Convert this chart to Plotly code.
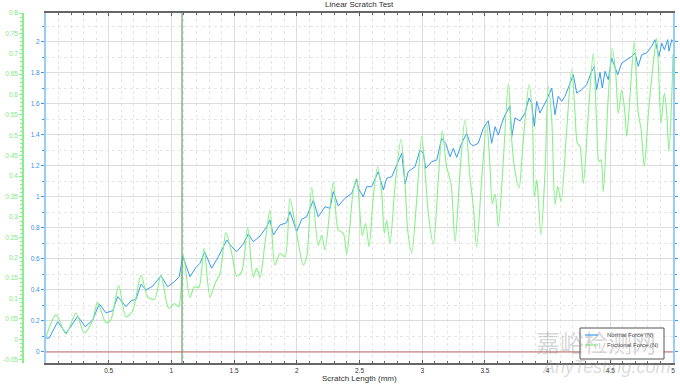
import plotly.graph_objects as go

# ---------------- data ----------------
normal_x = [0.000, 0.026, 0.093, 0.159, 0.253, 0.313, 0.372, 0.425, 0.478, 0.532,
            0.572, 0.638, 0.678, 0.718, 0.758, 0.797, 0.851, 0.917, 0.970, 1.023,
            1.063, 1.090, 1.148, 1.196, 1.228, 1.265, 1.321, 1.374, 1.441, 1.481,
            1.521, 1.573, 1.613, 1.653, 1.707, 1.760, 1.786, 1.813, 1.866, 1.919,
            1.946, 1.999, 2.039, 2.079, 2.132, 2.171, 2.225, 2.265, 2.291, 2.331,
            2.384, 2.438, 2.478, 2.490, 2.530, 2.557, 2.597, 2.650, 2.690, 2.717,
            2.757, 2.797, 2.837, 2.863, 2.889, 2.943, 2.982, 3.009, 3.028, 3.076,
            3.116, 3.155, 3.187, 3.222, 3.248, 3.275, 3.315, 3.355, 3.381, 3.408,
            3.447, 3.487, 3.527, 3.554, 3.581, 3.607, 3.634, 3.660, 3.700, 3.714,
            3.740, 3.780, 3.820, 3.852, 3.873, 3.894, 3.913, 3.939, 3.966, 3.993,
            4.033, 4.059, 4.085, 4.112, 4.139, 4.179, 4.205, 4.232, 4.272, 4.312,
            4.346, 4.372, 4.391, 4.418, 4.436, 4.458, 4.484, 4.511, 4.537, 4.559,
            4.591, 4.631, 4.671, 4.697, 4.723, 4.750, 4.790, 4.830, 4.856, 4.888,
            4.910, 4.931, 4.958, 4.968, 4.990, 5.000]
normal_y = [0.090, 0.090, 0.195, 0.120, 0.230, 0.163, 0.206, 0.310, 0.253, 0.266,
            0.357, 0.292, 0.330, 0.340, 0.438, 0.400, 0.425, 0.492, 0.421, 0.453,
            0.486, 0.619, 0.486, 0.546, 0.572, 0.645, 0.540, 0.614, 0.722, 0.679,
            0.647, 0.696, 0.761, 0.711, 0.748, 0.808, 0.851, 0.754, 0.819, 0.834,
            0.905, 0.776, 0.856, 0.872, 0.980, 0.872, 0.937, 0.926, 1.034, 0.941,
            0.991, 1.023, 1.113, 1.055, 1.001, 1.066, 1.066, 1.163, 1.045, 1.120,
            1.130, 1.206, 1.281, 1.083, 1.163, 1.195, 1.302, 1.281, 1.184, 1.227,
            1.238, 1.378, 1.346, 1.259, 1.313, 1.255, 1.346, 1.410, 1.346, 1.330,
            1.346, 1.442, 1.491, 1.346, 1.453, 1.399, 1.474, 1.528, 1.586, 1.388,
            1.510, 1.490, 1.541, 1.638, 1.605, 1.455, 1.616, 1.541, 1.584, 1.627,
            1.702, 1.530, 1.649, 1.616, 1.649, 1.734, 1.788, 1.670, 1.691, 1.724,
            1.799, 1.842, 1.691, 1.803, 1.702, 1.810, 1.756, 1.896, 1.842, 1.788,
            1.863, 1.885, 1.906, 1.928, 1.842, 1.917, 1.928, 1.971, 2.014, 1.906,
            1.992, 1.949, 2.014, 1.940, 2.014, 2.003]

friction_x = [0.000, 0.080, 0.159, 0.239, 0.305, 0.372, 0.412, 0.478, 0.518, 0.580,
              0.638, 0.691, 0.758, 0.811, 0.864, 0.917, 0.978, 1.023, 1.058, 1.095,
              1.148, 1.183, 1.218, 1.260, 1.308, 1.348, 1.388, 1.435, 1.481, 1.521,
              1.561, 1.608, 1.653, 1.680, 1.707, 1.746, 1.786, 1.826, 1.866, 1.906,
              1.946, 1.999, 2.052, 2.079, 2.119, 2.171, 2.199, 2.225, 2.291, 2.331,
              2.371, 2.398, 2.451, 2.478, 2.496, 2.522, 2.549, 2.576, 2.610, 2.645,
              2.677, 2.698, 2.717, 2.743, 2.783, 2.831, 2.863, 2.884, 2.916, 2.956,
              2.996, 3.028, 3.049, 3.089, 3.128, 3.160, 3.195, 3.230, 3.262, 3.301,
              3.341, 3.381, 3.408, 3.434, 3.474, 3.514, 3.541, 3.559, 3.581, 3.607,
              3.647, 3.687, 3.714, 3.735, 3.772, 3.806, 3.852, 3.878, 3.894, 3.913,
              3.921, 3.947, 3.979, 4.006, 4.033, 4.059, 4.081, 4.107, 4.152, 4.192,
              4.219, 4.237, 4.258, 4.285, 4.325, 4.364, 4.391, 4.410, 4.426, 4.444,
              4.484, 4.516, 4.543, 4.564, 4.591, 4.617, 4.631, 4.657, 4.691, 4.723,
              4.745, 4.771, 4.804, 4.843, 4.870, 4.888, 4.904, 4.931, 4.950, 4.968,
              4.990, 5.000]
friction_y = [0.006, 0.060, 0.013, 0.064, 0.016, 0.047, 0.090, 0.041, 0.049, 0.131,
              0.055, 0.070, 0.157, 0.104, 0.098, 0.157, 0.076, 0.088, 0.080, 0.206,
              0.103, 0.129, 0.127, 0.223, 0.104, 0.137, 0.162, 0.261, 0.211, 0.155,
              0.166, 0.274, 0.153, 0.174, 0.152, 0.235, 0.317, 0.182, 0.211, 0.202,
              0.345, 0.260, 0.182, 0.202, 0.372, 0.231, 0.255, 0.219, 0.386, 0.268,
              0.260, 0.209, 0.366, 0.394, 0.341, 0.255, 0.284, 0.227, 0.349, 0.423,
              0.358, 0.260, 0.292, 0.235, 0.374, 0.491, 0.382, 0.268, 0.212, 0.341,
              0.498, 0.390, 0.309, 0.233, 0.390, 0.511, 0.423, 0.382, 0.239, 0.407,
              0.539, 0.398, 0.325, 0.227, 0.390, 0.529, 0.423, 0.333, 0.356, 0.276,
              0.439, 0.627, 0.488, 0.423, 0.371, 0.489, 0.624, 0.554, 0.350, 0.391,
              0.370, 0.256, 0.407, 0.620, 0.538, 0.330, 0.375, 0.338, 0.513, 0.662,
              0.554, 0.481, 0.473, 0.383, 0.554, 0.701, 0.530, 0.436, 0.440, 0.362,
              0.595, 0.713, 0.652, 0.554, 0.611, 0.554, 0.497, 0.595, 0.730, 0.554,
              0.517, 0.424, 0.554, 0.677, 0.738, 0.636, 0.530, 0.603, 0.554, 0.460,
              0.595, 0.700]

baseline_x = [0.0, 5.0]
baseline_y = [0.0, 0.0]
critical_x = 1.085

x_ticks = [0.5, 1, 1.5, 2, 2.5, 3, 3.5, 4, 4.5, 5]
x_tick_text = ["0.5", "1", "1.5", "2", "2.5", "3", "3.5", "4", "4.5", "5"]
normal_ticks = [0, 0.2, 0.4, 0.6, 0.8, 1, 1.2, 1.4, 1.6, 1.8, 2]
normal_tick_text = ["0", "0.2", "0.4", "0.6", "0.8", "1", "1.2", "1.4", "1.6", "1.8", "2"]
friction_ticks = [-0.05, 0, 0.05, 0.1, 0.15, 0.2, 0.25, 0.3, 0.35, 0.4, 0.45,
                  0.5, 0.55, 0.6, 0.65, 0.7, 0.75, 0.8]
friction_tick_text = ["-0.05", "0", "0.05", "0.1", "0.15", "0.2", "0.25", "0.3", "0.35",
                      "0.4", "0.45", "0.5", "0.55", "0.6", "0.65", "0.7", "0.75", "0.8"]

# ---------------- layout geometry ----------------
W, H = 680, 387
ML, MR, MT, MB = 10, 7, 13, 24
PW, PH = W - ML - MR, H - MT - MB


def px(xp):
    return (xp - ML) / PW


def py(yp):
    return (H - MB - yp) / PH


BLUE = "rgb(55,155,245)"
GREEN = "rgb(135,240,135)"
FONT = "Liberation Sans, Arial, sans-serif"

fig = go.Figure()

fig.add_trace(go.Scatter(x=baseline_x, y=baseline_y, mode="lines",
                         line=dict(color="rgb(195,110,110)", width=1),
                         yaxis="y", showlegend=False, hoverinfo="skip"))
fig.add_trace(go.Scatter(x=friction_x, y=friction_y, mode="lines", name="Frictional Force (N)",
                         line=dict(color=GREEN, width=1.1, shape="spline", smoothing=0.8),
                         yaxis="y2", showlegend=False))
fig.add_trace(go.Scatter(x=normal_x, y=normal_y, mode="lines", name="Normal Force (N)",
                         line=dict(color=BLUE, width=1),
                         yaxis="y", showlegend=False))

fig.add_vline(x=critical_x, line=dict(color="rgba(100,160,100,0.85)", width=1.4))

fig.update_layout(
    width=W, height=H,
    margin=dict(l=ML, r=MR, t=MT, b=MB, autoexpand=False),
    paper_bgcolor="white", plot_bgcolor="white",
    font=dict(family=FONT, size=7, color="#333"),
    xaxis=dict(
        domain=[px(46), 1], range=[0, 5], automargin=False,
        tickvals=x_ticks, ticktext=x_tick_text,
        ticks="inside", ticklen=3, tickcolor="#555",
        showline=True, linecolor="#666", linewidth=1.5, mirror="ticks",
        showgrid=True, gridcolor="#dcdcdc", gridwidth=1,
        zeroline=False,
        tickfont=dict(size=6.5, color="#333"),
        minor=dict(dtick=0.1, ticks="inside", ticklen=2, tickcolor="#666",
                   showgrid=True, gridcolor="#e6e6e6", griddash="dot"),
    ),
    yaxis=dict(
        range=[-0.071, 2.186], automargin=False,
        tickvals=normal_ticks, ticktext=normal_tick_text,
        ticks="outside", ticklen=3, tickcolor=BLUE,
        showline=True, linecolor="rgb(150,205,250)", linewidth=2, mirror="ticks",
        showgrid=True, gridcolor="#dcdcdc", gridwidth=1,
        zeroline=False,
        tickfont=dict(size=6.5, color="rgb(70,140,225)"),
        minor=dict(dtick=0.1, ticks="outside", ticklen=2, tickcolor=BLUE,
                   showgrid=True, gridcolor="#e6e6e6", griddash="dot"),
    ),
    yaxis2=dict(
        overlaying="y", anchor="free", position=px(23), side="left",
        range=[-0.058, 0.8], automargin=False,
        tickvals=friction_ticks, ticktext=friction_tick_text,
        ticks="outside", ticklen=3, tickcolor=GREEN,
        showline=True, linecolor=GREEN, linewidth=1.5,
        showgrid=False, zeroline=False,
        tickfont=dict(size=6.5, color="rgb(130,232,130)"),
        minor=dict(dtick=0.01, ticks="outside", ticklen=2, tickcolor=GREEN),
    ),
)

annotations = [
    dict(text="Linear Scratch Test", xref="paper", yref="paper",
         x=px(359.5), y=py(5), xanchor="center", yanchor="middle", showarrow=False,
         font=dict(size=8, color="#333")),
    dict(text="Scratch Length (mm)", xref="paper", yref="paper",
         x=px(359.5), y=py(378), xanchor="center", yanchor="middle", showarrow=False,
         font=dict(size=8, color="#333")),
    # legend entries
    dict(text="Normal Force (N)", xref="paper", yref="paper",
         x=px(605), y=py(335), xanchor="left", yanchor="middle", showarrow=False,
         font=dict(size=6, color="#444")),
    dict(text="Frictional Force (N)", xref="paper", yref="paper",
         x=px(605), y=py(345), xanchor="left", yanchor="middle", showarrow=False,
         font=dict(size=6, color="#444")),
    # watermark
    dict(text="嘉峪检测网", xref="paper", yref="paper",
         x=px(596), y=py(341), xanchor="center", yanchor="middle", showarrow=False,
         font=dict(size=24, color="rgba(140,140,140,0.35)", family="Noto Sans CJK SC")),
    dict(text="AnyTesting.com", xref="paper", yref="paper",
         x=px(606), y=py(367), xanchor="center", yanchor="middle", showarrow=False,
         font=dict(size=18, color="rgba(150,150,150,0.35)", style="italic", family=FONT)),
]

shapes = [
    dict(type="rect", xref="paper", yref="paper",
         x0=px(580), x1=px(664), y0=py(359), y1=py(328),
         line=dict(color="#555", width=1), fillcolor="rgba(255,255,255,0.9)", layer="above"),
    dict(type="line", xref="paper", yref="paper",
         x0=px(585), x1=px(598), y0=py(335), y1=py(335),
         line=dict(color=BLUE, width=1.2), layer="above"),
    dict(type="line", xref="paper", yref="paper",
         x0=px(585), x1=px(598), y0=py(345), y1=py(345),
         line=dict(color=GREEN, width=1.2), layer="above"),
]

fig.update_layout(annotations=annotations)
for s in shapes:
    fig.add_shape(**s)

fig.write_html(
    "out.html",
    config={"displayModeBar": False},
    post_script="document.body.style.margin='0px';document.body.style.padding='0px';"
                "document.body.style.overflow='hidden';",
)
